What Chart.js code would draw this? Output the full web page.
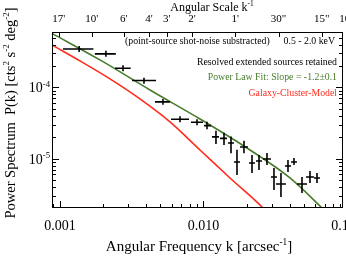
<!DOCTYPE html>
<html><head><meta charset="utf-8">
<script src="https://cdn.jsdelivr.net/npm/chart.js@4/dist/chart.umd.min.js"></script>
<style>html,body{margin:0;padding:0;background:#fff}#w{width:346px;height:257px;position:relative}</style>
</head><body><div id="w"><canvas id="c" width="346" height="257"></canvas></div>
<script>
// ---- data ----
const kCenter = [0.00136,0.00209,0.00275,0.00385,0.00522,0.00686,0.00901,0.01058,0.01222,0.0139,0.01555,0.01712,0.01915,0.02178,0.02437,0.0277,0.03099,0.03467,0.0388,0.04272,0.04858,0.05523,0.0618];
const kLow    = [0.00105,0.00175,0.00242,0.00318,0.00459,0.00594,0.00818,0.01008,0.01146,0.01303,0.01482,0.01631,0.01797,0.02075,0.02322,0.02598,0.02954,0.032,0.03698,0.04072,0.04482,0.05181,0.05888];
const kHigh   = [0.00171,0.00245,0.00311,0.00467,0.00584,0.00793,0.00992,0.01128,0.01282,0.01458,0.01631,0.01797,0.02042,0.02285,0.02557,0.02954,0.03252,0.03757,0.04072,0.04482,0.05264,0.05888,0.06484];
const power   = [3.47e-4,2.96e-4,1.86e-4,1.25e-4,6.26e-5,3.58e-5,3.25e-5,2.91e-5,2.02e-5,1.93e-5,1.66e-5,8.99e-6,1.46e-5,8.70e-6,9.28e-6,9.9e-6,5.53e-6,4.41e-6,7.9e-6,8.99e-6,4.41e-6,5.53e-6,5.36e-6];
const powerLow  = [3.15e-4,2.69e-4,1.69e-4,1.13e-4,5.7e-5,3.25e-5,2.95e-5,2.59e-5,1.61e-5,1.56e-5,1.19e-5,5.9e-6,1.19e-5,6.3e-6,6.94e-6,8.16e-6,3.63e-6,2.9e-6,6.5e-6,8.16e-6,3.3e-6,4.56e-6,4.56e-6];
const powerHigh = [3.82e-4,3.26e-4,2.05e-4,1.37e-4,6.9e-5,3.95e-5,3.58e-5,3.31e-5,2.47e-5,2.32e-5,2.04e-5,1.33e-5,1.79e-5,1.13e-5,1.13e-5,1.2e-5,7.4e-6,6.3e-6,9.59e-6,1.023e-5,5.53e-6,6.72e-6,6.3e-6];

const fitK = [8.8e-4,1.9e-3,4.238e-3,9.454e-3,0.02109,0.04006,0.06695,0.0761];
const fitP = [5.73e-4,2.433e-4,9.22e-5,3.61e-5,1.325e-5,5.36e-6,2.03e-6,1.57e-6];
const modelK = [8.8e-4,1.378e-3,2.231e-3,3.609e-3,5.842e-3,9.454e-3,0.0153,0.02598,0.02907];
const modelP = [3.95e-4,2.356e-4,1.316e-4,6.89e-5,3.28e-5,1.325e-5,5.36e-6,2.03e-6,1.57e-6];

const xMajorTicks = [0.001,0.01,0.1];
const xMajorLabels = ['0.001','0.010','0.100'];
const yMajorTicks = [1e-4,1e-5];
const yMajorExp = ['-4','-5'];
const scaleArcsec = [1020,600,360,240,180,120,60,30,15,10];
const scaleLabels = ["17'","10'","6'","4'","3'","2'","1'","30\"","15\"","10\""];

const SERIF = '"Liberation Serif","Times New Roman",serif';
const GREEN = '#467c2c', RED = '#ff2b1c';

function minorVals(min,max){
  const out=[];
  for(let e=-7;e<=0;e++){for(let m=1;m<=9;m++){const v=m*Math.pow(10,e);if(v>=min*0.999&&v<=max*1.001)out.push({v,major:m===1});}}
  return out;
}
function richWidth(ctx,parts,size){
  let w=0;for(const p of parts){ctx.font=(p.sup?size*0.62:size)+'px '+SERIF;w+=ctx.measureText(p.t).width;}return w;
}
function drawRich(ctx,parts,x,y,size,align){
  const w=richWidth(ctx,parts,size);
  let cx = align==='center'? x-w/2 : align==='right'? x-w : x;
  ctx.textAlign='left';ctx.textBaseline='alphabetic';
  for(const p of parts){
    const s=p.sup?size*0.62:size;ctx.font=s+'px '+SERIF;
    ctx.fillText(p.t,cx,p.sup?y-size*0.42:y);cx+=ctx.measureText(p.t).width;
  }
}

const deco = {
  id:'deco',
  afterDatasetsDraw(chart){
    const ctx=chart.ctx, a=chart.chartArea, xs=chart.scales.x, ys=chart.scales.y;
    ctx.save();
    // error bars
    ctx.beginPath();ctx.rect(a.left,a.top,a.right-a.left,a.bottom-a.top);ctx.clip();
    ctx.strokeStyle='#000';ctx.lineWidth=1.6;
    for(let i=0;i<kCenter.length;i++){
      const px=xs.getPixelForValue(kCenter[i]), py=ys.getPixelForValue(power[i]);
      ctx.beginPath();
      ctx.moveTo(xs.getPixelForValue(kLow[i]),py);ctx.lineTo(xs.getPixelForValue(kHigh[i]),py);
      ctx.moveTo(px,ys.getPixelForValue(powerLow[i]));ctx.lineTo(px,ys.getPixelForValue(powerHigh[i]));
      ctx.stroke();
    }
    ctx.restore();
    ctx.save();
    // frame
    ctx.strokeStyle='#000';ctx.lineWidth=1;
    ctx.strokeRect(a.left+0.5,a.top+0.5,a.right-a.left-1,a.bottom-a.top-1);
    // y ticks (left and right)
    ctx.beginPath();
    for(const t of minorVals(ys.min,ys.max)){
      const py=Math.round(ys.getPixelForValue(t.v))+0.5, L=t.major?7:4;
      ctx.moveTo(a.left,py);ctx.lineTo(a.left+L,py);
      ctx.moveTo(a.right,py);ctx.lineTo(a.right-L,py);
    }
    // x ticks bottom
    for(const t of minorVals(xs.min,xs.max)){
      const px=Math.round(xs.getPixelForValue(t.v))+0.5, L=t.major?7:4;
      ctx.moveTo(px,a.bottom);ctx.lineTo(px,a.bottom-L);
    }
    // top ticks
    for(let i=0;i<scaleArcsec.length;i++){
      const k=1/scaleArcsec[i];if(k<xs.min||k>xs.max)continue;
      const px=Math.round(xs.getPixelForValue(k))+0.5;
      ctx.moveTo(px,a.top);ctx.lineTo(px,a.top+5);
    }
    ctx.stroke();
    ctx.fillStyle='#000';
    // bottom labels
    ctx.font='14px '+SERIF;ctx.textAlign='center';ctx.textBaseline='middle';
    xMajorTicks.forEach((v,i)=>ctx.fillText(xMajorLabels[i],xs.getPixelForValue(v),226));
    // y labels
    yMajorTicks.forEach((v,i)=>drawRich(ctx,[{t:'10'},{t:yMajorExp[i],sup:true}],a.left-2,ys.getPixelForValue(v)+5,14,'right'));
    // top labels
    ctx.font='11px '+SERIF;ctx.textAlign='center';ctx.textBaseline='middle';
    scaleArcsec.forEach((s,i)=>ctx.fillText(scaleLabels[i],xs.getPixelForValue(1/s),19));
    drawRich(ctx,[{t:'Angular Scale k'},{t:'-1',sup:true}],212,11,12,'center');
    // x title
    drawRich(ctx,[{t:'Angular Frequency k [arcsec'},{t:'-1',sup:true},{t:']'}],199,251,15,'center');
    // y title
    ctx.save();ctx.translate(15,113);ctx.rotate(-Math.PI/2);
    drawRich(ctx,[{t:'Power Spectrum  P(k) [cts'},{t:'2',sup:true},{t:' s'},{t:'-2',sup:true},{t:' deg'},{t:'-2',sup:true},{t:']'}],0,0,14.5,'center');
    ctx.restore();
    // annotations
    ctx.font='9.8px '+SERIF;ctx.textBaseline='middle';ctx.textAlign='left';
    ctx.fillText('(point-source shot-noise substracted)',125,41.5);
    ctx.textAlign='right';
    ctx.fillText('0.5 - 2.0 keV',335,41.5);
    ctx.fillText('Resolved extended sources retained',337,62.5);
    ctx.fillStyle=GREEN;ctx.fillText('Power Law Fit: Slope = -1.2\u00b10.1',337,77.5);
    ctx.fillStyle=RED;ctx.fillText('Galaxy-Cluster-Model',337,93.5);
    ctx.restore();
  }
};

const xMin=8.8e-4, xMax=0.0938, yMin=2.03e-6, yMax=6.0e-4;
new Chart(document.getElementById('c'),{
  type:'scatter',
  data:{datasets:[
    {label:'Power Law Fit',data:fitK.map((k,i)=>({x:k,y:fitP[i]})),showLine:true,borderColor:GREEN,borderWidth:1.6,pointRadius:0,cubicInterpolationMode:'monotone'},
    {label:'Galaxy-Cluster-Model',data:modelK.map((k,i)=>({x:k,y:modelP[i]})),showLine:true,borderColor:RED,borderWidth:1.6,pointRadius:0,cubicInterpolationMode:'monotone'},
    {label:'P(k)',data:kCenter.map((k,i)=>({x:k,y:power[i]})),pointRadius:0,showLine:false}
  ]},
  options:{
    responsive:false,animation:false,devicePixelRatio:1,
    layout:{padding:{left:0,right:3,top:0,bottom:0}},
    plugins:{legend:{display:false},tooltip:{enabled:false}},
    scales:{
      x:{type:'logarithmic',position:'bottom',min:xMin,max:xMax,grid:{display:false},border:{display:false},ticks:{display:false},afterFit(s){s.height=49;}},
      x2:{type:'logarithmic',position:'top',min:xMin,max:xMax,grid:{display:false},border:{display:false},ticks:{display:false},afterFit(s){s.height=32;}},
      y:{type:'logarithmic',position:'left',min:yMin,max:yMax,grid:{display:false},border:{display:false},ticks:{display:false},afterFit(s){s.width=52;}}
    }
  },
  plugins:[deco]
});
</script></body></html>
